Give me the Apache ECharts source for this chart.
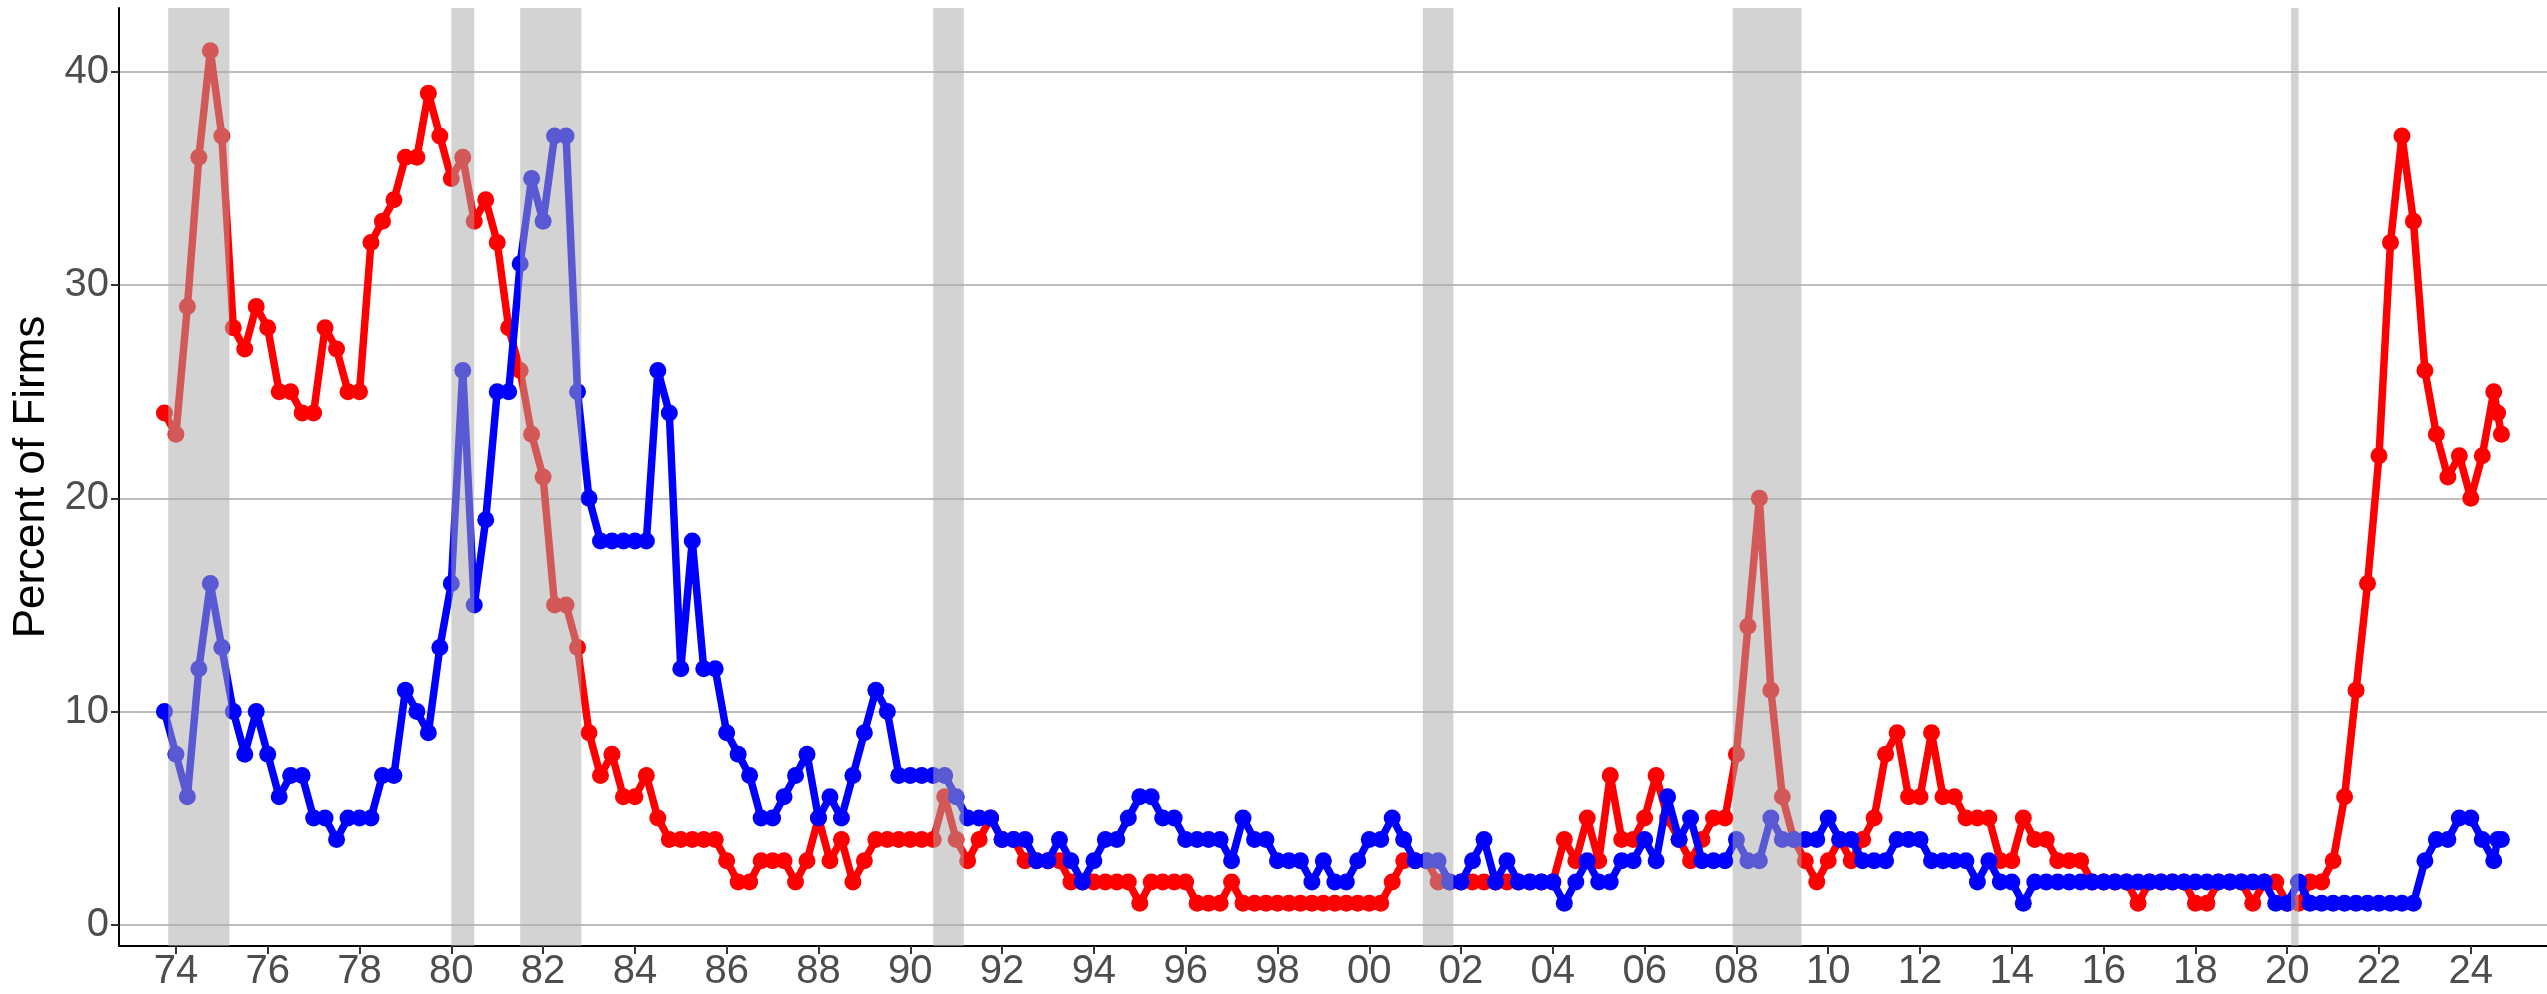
<!DOCTYPE html>
<html>
<head>
<meta charset="utf-8">
<script src="https://cdn.jsdelivr.net/npm/echarts@6/dist/echarts.min.js"></script>
<style>
  html, body { margin: 0; padding: 0; background: #fff; }
  #chart { width: 2547px; height: 994px; }
</style>
</head>
<body>
<div id="chart"></div>
<script>
// quarterly survey, first obs 1973Q4, last quarter 2024Q3, then two monthly points
const firstQuarter = 1973.75;
const quarterCount = 204;
const extraMonths = [2024 + 7 / 12, 2024 + 8 / 12];

// red series (percent of firms)
const redValues = [
  24, 23, 29, 36,  41, 37, 28, 27,  29, 28, 25, 25,  24, 24, 28, 27,
  25, 25, 32, 33,  34, 36, 36, 39,  37, 35, 36, 33,  34, 32, 28, 26,
  23, 21, 15, 15,  13, 9, 7, 8,     6, 6, 7, 5,      4, 4, 4, 4,
  4, 3, 2, 2,      3, 3, 3, 2,      3, 5, 3, 4,      2, 3, 4, 4,
  4, 4, 4, 4,      6, 4, 3, 4,      5, 4, 4, 3,      3, 3, 3, 2,
  2, 2, 2, 2,      2, 1, 2, 2,      2, 2, 1, 1,      1, 2, 1, 1,
  1, 1, 1, 1,      1, 1, 1, 1,      1, 1, 1, 2,      3, 3, 3, 2,
  2, 2, 2, 2,      2, 2, 2, 2,      2, 2, 4, 3,      5, 3, 7, 4,
  4, 5, 7, 5,      4, 3, 4, 5,      5, 8, 14, 20,    11, 6, 4, 3,
  2, 3, 4, 3,      4, 5, 8, 9,      6, 6, 9, 6,      6, 5, 5, 5,
  3, 3, 5, 4,      4, 3, 3, 3,      2, 2, 2, 2,      1, 2, 2, 2,
  2, 1, 1, 2,      2, 2, 1, 2,      2, 1, 1, 2,      2, 3, 6, 11,
  16, 22, 32, 37,  33, 26, 23, 21,  22, 20, 22, 25,
  24, 23
];

// blue series (percent of firms)
const blueValues = [
  10, 8, 6, 12,    16, 13, 10, 8,   10, 8, 6, 7,     7, 5, 5, 4,
  5, 5, 5, 7,      7, 11, 10, 9,    13, 16, 26, 15,  19, 25, 25, 31,
  35, 33, 37, 37,  25, 20, 18, 18,  18, 18, 18, 26,  24, 12, 18, 12,
  12, 9, 8, 7,     5, 5, 6, 7,      8, 5, 6, 5,      7, 9, 11, 10,
  7, 7, 7, 7,      7, 6, 5, 5,      5, 4, 4, 4,      3, 3, 4, 3,
  2, 3, 4, 4,      5, 6, 6, 5,      5, 4, 4, 4,      4, 3, 5, 4,
  4, 3, 3, 3,      2, 3, 2, 2,      3, 4, 4, 5,      4, 3, 3, 3,
  2, 2, 3, 4,      2, 3, 2, 2,      2, 2, 1, 2,      3, 2, 2, 3,
  3, 4, 3, 6,      4, 5, 3, 3,      3, 4, 3, 3,      5, 4, 4, 4,
  4, 5, 4, 4,      3, 3, 3, 4,      4, 4, 3, 3,      3, 3, 2, 3,
  2, 2, 1, 2,      2, 2, 2, 2,      2, 2, 2, 2,      2, 2, 2, 2,
  2, 2, 2, 2,      2, 2, 2, 2,      1, 1, 2, 1,      1, 1, 1, 1,
  1, 1, 1, 1,      1, 3, 4, 4,      5, 5, 4, 3,
  4, 4
];

// NBER recessions (peak month, trough month) as decimal years
const recessions = [
  [1973 + 10 / 12, 1975 + 2 / 12],
  [1980 + 0 / 12, 1980 + 6 / 12],
  [1981 + 6 / 12, 1982 + 10 / 12],
  [1990 + 6 / 12, 1991 + 2 / 12],
  [2001 + 2 / 12, 2001 + 10 / 12],
  [2007 + 11 / 12, 2009 + 5 / 12],
  [2020 + 1 / 12, 2020 + 3 / 12]
];

const xTicks = [1974, 1976, 1978, 1980, 1982, 1984, 1986, 1988, 1990, 1992, 1994, 1996, 1998,
  2000, 2002, 2004, 2006, 2008, 2010, 2012, 2014, 2016, 2018, 2020, 2022, 2024];
const yTicks = [0, 10, 20, 30, 40];

const dates = [];
for (let i = 0; i < quarterCount; i++) dates.push(firstQuarter + i / 4);
extraMonths.forEach(function (m) { dates.push(m); });

const yMin = -1, yMax = 43;
const font = 'Liberation Sans, Arial, Helvetica, sans-serif';

const chart = echarts.init(document.getElementById('chart'), null, { renderer: 'canvas' });

chart.setOption({
  animation: false,
  backgroundColor: '#ffffff',
  grid: { left: 119, right: 0, top: 8, bottom: 48 },
  xAxis: {
    type: 'value',
    min: 1972.76,
    max: 2025.66,
    axisLine: { onZero: false, lineStyle: { color: '#000', width: 2 } },
    axisTick: { show: true, length: 8, customValues: xTicks, lineStyle: { color: '#333', width: 2 } },
    axisLabel: {
      customValues: xTicks,
      formatter: function (v) { return String(v).slice(2); },
      fontSize: 40, color: '#4d4d4d', fontFamily: font, margin: 6
    },
    splitLine: { show: false }
  },
  yAxis: {
    type: 'value',
    min: yMin,
    max: yMax,
    name: 'Percent of Firms',
    nameLocation: 'middle',
    nameGap: 58,
    nameTextStyle: { fontSize: 44, color: '#000', fontFamily: font },
    axisLine: { show: true, lineStyle: { color: '#000', width: 2 } },
    axisTick: { show: true, length: 8, customValues: yTicks, lineStyle: { color: '#333', width: 2 } },
    axisLabel: { customValues: yTicks, fontSize: 40, color: '#4d4d4d', fontFamily: font, margin: 10 },
    splitLine: { show: true, lineStyle: { color: '#bebebe', width: 2 } }
  },
  series: [
    {
      name: 'red',
      type: 'line',
      z: 2,
      data: dates.map(function (d, i) { return [d, redValues[i]]; }),
      symbol: 'circle',
      symbolSize: 17,
      showSymbol: true,
      showAllSymbol: true,
      lineStyle: { color: '#ff0000', width: 7.5 },
      itemStyle: { color: '#ff0000' }
    },
    {
      name: 'blue',
      type: 'line',
      z: 3,
      data: dates.map(function (d, i) { return [d, blueValues[i]]; }),
      symbol: 'circle',
      symbolSize: 17,
      showSymbol: true,
      showAllSymbol: true,
      lineStyle: { color: '#0000ff', width: 7.5 },
      itemStyle: { color: '#0000ff' }
    },
    {
      // recession bars drawn over the lines, semi-transparent
      name: 'recessions',
      type: 'custom',
      z: 10,
      silent: true,
      data: recessions,
      encode: { x: [0, 1] },
      renderItem: function (params, api) {
        const p0 = api.coord([api.value(0), yMax]);
        const p1 = api.coord([api.value(1), yMin]);
        return {
          type: 'rect',
          shape: { x: p0[0], y: p0[1], width: p1[0] - p0[0], height: p1[1] - p0[1] },
          style: { fill: 'rgba(170,170,170,0.52)' }
        };
      }
    }
  ]
});
</script>
</body>
</html>
